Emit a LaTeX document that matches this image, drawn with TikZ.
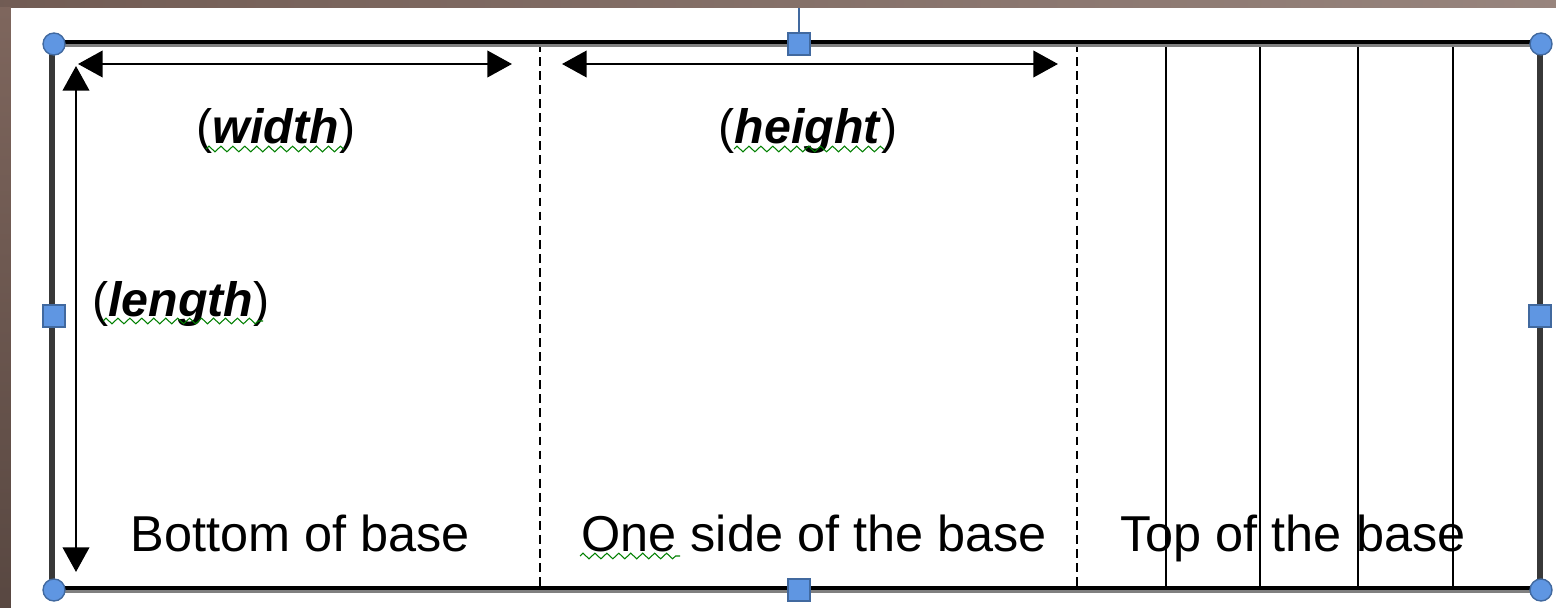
\documentclass[tikz,border=0pt]{standalone}
\usepackage{fontspec}
\setmainfont{Liberation Sans}
\usetikzlibrary{arrows.meta,decorations.pathmorphing}
\definecolor{framebrown}{HTML}{7E665D}
\definecolor{handlefill}{HTML}{5F96E2}
\definecolor{handledraw}{HTML}{41699F}
\definecolor{spellgreen}{HTML}{008000}

\begin{document}
\begin{tikzpicture}[x=0.02cm, y=-0.02cm,
    face/.style={font=\fontsize{28.7pt}{34pt}\selectfont, anchor=base, inner sep=0pt},
    dimlabel/.style={font=\fontsize{27.5pt}{33pt}\selectfont, anchor=base, inner sep=0pt},
    dimline/.style={line width=1.5pt, {Triangle[length=14pt,width=15pt]}-{Triangle[length=14pt,width=15pt]}},
    fold/.style={line width=1.3pt, dash pattern=on 5pt off 3pt},
    strip/.style={line width=1.6pt},
    squiggle/.style={spellgreen, line width=0.6pt, decorate, decoration={zigzag, segment length=6.8pt, amplitude=1.6pt}},
    roundhandle/.style={circle, fill=handlefill, draw=handledraw, line width=0.8pt, minimum size=12.5pt, inner sep=0pt},
    squarehandle/.style={rectangle, fill=handlefill, draw=handledraw, line width=1.2pt, minimum size=12.5pt, inner sep=0pt}
]
    \useasboundingbox (0,0) rectangle (1556,608);

    % Backdrop
    \shade[left color=framebrown!90!black, right color=framebrown!80!white] (0,0) rectangle (1556,8);
    \shade[top color=framebrown, bottom color=framebrown!70!black] (0,8) rectangle (11,608);
    \fill[white] (11,8) rectangle (1556,608);

    % Corners of the net
    \coordinate (nw) at (52,42);
    \coordinate (ne) at (1540,42);
    \coordinate (sw) at (52,588);
    \coordinate (se) at (1540,588);

    % Folds
    \draw[fold] (540,43) -- (540,588);
    \draw[fold] (1077,43) -- (1077,588);
    \foreach \x in {1166,1260,1358,1453}
        \draw[strip] (\x,43) -- (\x,588);

    % Outline
    \draw[gray, line width=2pt] (52,45.5) -- (1540,45.5);
    \draw[gray, line width=2pt] (52,591.5) -- (1540,591.5);
    \draw[line width=1.8pt] (nw) -- (ne);
    \draw[line width=1.8pt] (sw) -- (se);
    \draw[black!78, line width=3pt] (nw) -- (sw);
    \draw[black!78, line width=3pt] (ne) -- (se);

    % Dimension arrows
    \coordinate (wa) at (78,64);
    \coordinate (wb) at (512,64);
    \coordinate (ha) at (562,64);
    \coordinate (hb) at (1058,64);
    \coordinate (la) at (76,66);
    \coordinate (lb) at (76,572);
    \draw[dimline] (wa) -- (wb);
    \draw[dimline] (ha) -- (hb);
    \draw[dimline] (la) -- (lb);

    % Dimension labels
    \node[dimlabel] (width) at (276,144) {(\textbf{\textit{width}})};
    \node[dimlabel] (height) at (808,144) {(\textbf{\textit{height}})};
    \node[dimlabel] (length) at (181,316) {(\textbf{\textit{length}})};
    \draw[squiggle] (206,149) -- (344,149);
    \draw[squiggle] (734,149) -- (884,149);
    \draw[squiggle] (103,321) -- (263,321);

    % Faces
    \node[face] (bottom) at (300,551) {Bottom of base};
    \node[face] (side) at (814,551) {One side of the base};
    \node[face] (top) at (1293,551) {Top of the base};
    \draw[squiggle] (580,556) -- (680,556);

    % Selection handles
    \coordinate (rot) at (799,8);
    \node[squarehandle] (hn) at (799,44) {};
    \draw[handledraw, line width=1.5pt] (hn.north) -- (rot);
    \node[squarehandle] (hs) at (799,590) {};
    \node[squarehandle] (hw) at (54,316) {};
    \node[squarehandle] (he) at (1540,316) {};
    \node[roundhandle] (hnw) at (54,44) {};
    \node[roundhandle] (hne) at (1541,44) {};
    \node[roundhandle] (hsw) at (54,590) {};
    \node[roundhandle] (hse) at (1541,590) {};
\end{tikzpicture}
\end{document}
